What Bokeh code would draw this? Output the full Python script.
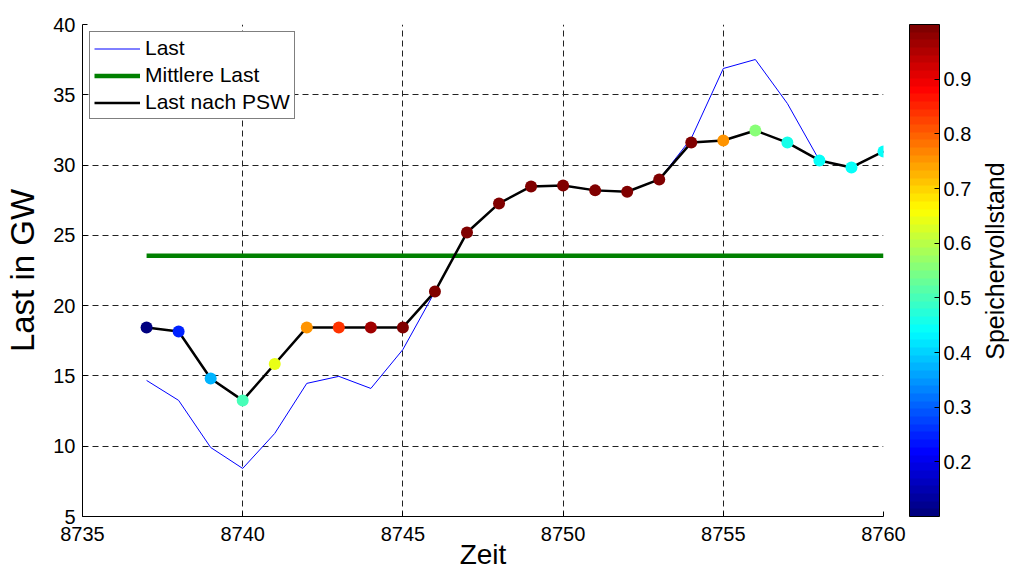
import math
from bokeh.plotting import figure
from bokeh.layouts import row
from bokeh.models import (ColumnDataSource, LinearColorMapper, ColorBar, FixedTicker,
                          Legend, LegendItem, Range1d, Label)
from bokeh.embed import file_html
from bokeh.resources import INLINE

# ---------------- data ----------------
zeit = list(range(8737, 8761))
last = [14.68, 13.26, 9.91, 8.42, 10.91, 14.47, 14.97, 14.11, 16.88, 21.0, 25.2, 27.27,
        28.48, 28.55, 28.2, 28.1, 28.98, 31.9, 36.87, 37.51, 34.38, 30.33, 29.83, 30.97]
last_psw = [18.45, 18.16, 14.82, 13.26, 15.85, 18.45, 18.45, 18.45, 18.45, 21.0, 25.2, 27.27,
            28.48, 28.55, 28.2, 28.1, 28.98, 31.6, 31.75, 32.46, 31.6, 30.33, 29.83, 30.97]
speicher = [0.11, 0.25, 0.38, 0.505, 0.64, 0.75, 0.84, 0.96, 0.99,
            1.0, 1.0, 1.0, 1.0, 1.0, 1.0, 1.0, 1.0, 1.0,
            0.76, 0.56, 0.46, 0.44, 0.44, 0.44]
mittlere_last = 23.55
x_ticks = [8735, 8740, 8745, 8750, 8755, 8760]
y_ticks = [5, 10, 15, 20, 25, 30, 35, 40]
cb_ticks = [0.2, 0.3, 0.4, 0.5, 0.6, 0.7, 0.8, 0.9]
cb_low, cb_high = 0.1, 1.0

FONT = "Liberation Sans"


def jet(n):
    cols = []
    for i in range(n):
        t = i / (n - 1)
        r = min(max(1.5 - abs(4 * t - 3), 0), 1)
        g = min(max(1.5 - abs(4 * t - 2), 0), 1)
        b = min(max(1.5 - abs(4 * t - 1), 0), 1)
        cols.append("#%02x%02x%02x" % (round(r * 255), round(g * 255), round(b * 255)))
    return cols


palette = jet(64)

W, H = 1009, 574
TW = 30            # width of the strip that carries the colour-bar title
FH = 492
x0, x1 = 8735, 8760
y0, y1 = 5, 40

p = figure(width=W - TW, height=H, x_range=Range1d(x0, x1), y_range=Range1d(y0, y1),
           output_backend="svg", toolbar_location=None,
           min_border_left=82, min_border_top=24, min_border_bottom=58, min_border_right=96)
p.outline_line_color = None
p.background_fill_color = "white"
p.border_fill_color = "white"

xax = p.xaxis[0]
yax = p.yaxis[0]
for ax in (xax, yax):
    ax.major_tick_in = 5
    ax.major_tick_out = 0
    ax.minor_tick_in = 0
    ax.minor_tick_out = 0
    ax.axis_line_color = "black"
    ax.major_tick_line_color = "black"
    ax.major_label_text_font = FONT
    ax.major_label_text_font_size = "20px"
    ax.major_label_text_color = "black"
    ax.major_label_standoff = 7
    ax.axis_label_text_font = FONT
    ax.axis_label_text_font_style = "normal"
    ax.axis_label_text_color = "black"

xax.ticker = FixedTicker(ticks=x_ticks)
yax.ticker = FixedTicker(ticks=y_ticks)
xax.major_label_standoff = 10
yax.axis_label = "Last in GW"
yax.axis_label_text_font_size = "33px"
yax.axis_label_standoff = 9
xax.axis_label = "Zeit"
xax.axis_label_text_font_size = "28px"
xax.axis_label_standoff = -5

for g in (p.xgrid[0], p.ygrid[0]):
    g.grid_line_color = "#222222"
    g.grid_line_dash = "6 4"
    g.grid_line_width = 1

r_last = p.line(zeit, last, line_color="#0000ff", line_width=1)
r_mean = p.line([zeit[0], zeit[-1]], [mittlere_last, mittlere_last], line_color="#008000", line_width=4.5)
r_psw = p.line(zeit, last_psw, line_color="black", line_width=2.5)

mapper = LinearColorMapper(palette=palette, low=cb_low, high=cb_high)
src = ColumnDataSource(dict(x=zeit, y=last_psw, s=speicher))
p.scatter("x", "y", source=src, size=12, marker="circle",
          fill_color={"field": "s", "transform": mapper}, line_color=None)

legend = Legend(items=[LegendItem(label="Last", renderers=[r_last]),
                       LegendItem(label="Mittlere Last", renderers=[r_mean]),
                       LegendItem(label="Last nach PSW", renderers=[r_psw])],
                location="top_left", margin=7, padding=4, spacing=3,
                glyph_width=46, glyph_height=21, label_height=21, label_standoff=5,
                label_text_font=FONT, label_text_font_size="21px", label_text_color="black",
                border_line_color="black", border_line_width=1, background_fill_alpha=1)
p.add_layout(legend)

cb = ColorBar(color_mapper=mapper, width=30, height=FH, location=(26, 0), margin=0, padding=0,
              ticker=FixedTicker(ticks=cb_ticks), major_label_text_font=FONT,
              major_label_text_font_size="20px", major_label_text_color="black",
              major_tick_in=5, major_tick_out=0, major_tick_line_color="black",
              bar_line_color="black", bar_line_width=1, label_standoff=4,
              background_fill_color=None, border_line_color=None)
p.add_layout(cb, "right")

# narrow strip to the right that carries the rotated colour-bar title
t = figure(width=TW, height=H, x_range=Range1d(0, TW), y_range=Range1d(0, H),
           output_backend="svg", toolbar_location=None, x_axis_type=None, y_axis_type=None,
           min_border=0, min_border_left=0, min_border_right=0, min_border_top=0,
           min_border_bottom=0)
t.outline_line_color = None
t.background_fill_color = "white"
t.border_fill_color = "white"
t.add_layout(Label(x=TW / 2, y=H - 276, text="Speichervollstand", angle=math.pi / 2,
                   text_align="center", text_baseline="middle", text_font=FONT,
                   text_font_size="25px", text_color="black"))

layout = row(p, t)
open("out.html", "w").write(file_html(layout, INLINE))
